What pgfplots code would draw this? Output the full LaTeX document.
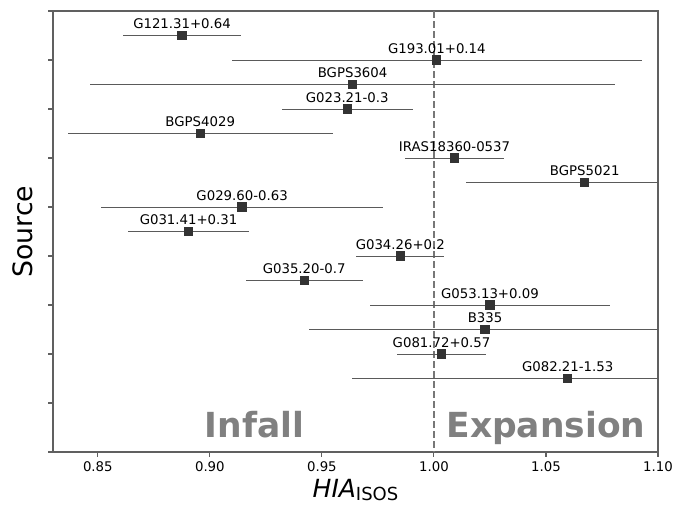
\documentclass[border=0pt]{standalone}
\usepackage{fontspec}
\setmainfont{DejaVu Sans}
\usepackage{pgfplots}
\usepackage{pgfplotstable}
\pgfplotsset{compat=1.18}
\definecolor{spine}{HTML}{606060}
\definecolor{ebar}{HTML}{5A5A5A}
\definecolor{mk}{HTML}{333333}
\definecolor{dline}{HTML}{777777}
\definecolor{txtgray}{HTML}{808080}
\pgfplotstableread{
x e y label
0.8876 0.0263 1 G121.31+0.64
1.0013 0.0916 2 G193.01+0.14
0.9637 0.1170 3 BGPS3604
0.9613 0.0292 4 G023.21-0.3
0.8957 0.0592 5 BGPS4029
1.0092 0.0222 6 IRAS18360-0537
1.0673 0.0532 7 BGPS5021
0.9144 0.0630 8 G029.60-0.63
0.8905 0.0271 9 G031.41+0.31
0.9850 0.0197 10 G034.26+0.2
0.9421 0.0261 11 G035.20-0.7
1.0250 0.0536 12 G053.13+0.09
1.0228 0.0787 13 B335
1.0034 0.0198 14 G081.72+0.57
1.0597 0.0963 15 G082.21-1.53
}\datatable
\begin{document}
\begin{tikzpicture}
\begin{axis}[
  scale only axis,
  width=605pt, height=441pt,
  xmin=0.83, xmax=1.10,
  ymin=0, ymax=18,
  y dir=reverse,
  xtick={0.85,0.90,0.95,1.00,1.05,1.10},
  xticklabel style={/pgf/number format/fixed, /pgf/number format/fixed zerofill, /pgf/number format/precision=2, /pgf/number format/assume math mode=true, yshift=-1pt},
  ytick={0,2,4,6,8,10,12,14,16,18},
  yticklabels={},
  tick align=outside,
  tick pos=left,
  major tick length=4.7pt,
  every tick/.style={spine, line width=1.1pt},
  axis line style={spine, line width=1.3pt},
  ticklabel style={font=\fontsize{13.3}{16}\selectfont},
  xlabel={{\itshape HIA}\raisebox{-3.5pt}{\fontsize{18}{20}\selectfont ISOS}},
  xlabel style={at={(axis description cs:0.5,0)}, anchor=base, yshift=-45pt, font=\fontsize{25}{28}\selectfont},
  ylabel={Source},
  ylabel style={at={(axis description cs:0,0.5)}, anchor=base, xshift=0pt, yshift=20pt, font=\fontsize{26.7}{30}\selectfont},
]
\addplot[dline, line width=1.5pt, dash pattern=on 7pt off 3pt, forget plot] coordinates {(1,0) (1,18)};
\addplot[only marks, mark=none,
  error bars/.cd, x dir=both, x explicit,
  error mark=none,
  error bar style={ebar, line width=1pt, solid}]
  table[x=x, y=y, x error=e] {\datatable};
\addplot[only marks, mark=square*, mark size=4.15pt, mark options={fill=mk, draw=mk, line width=0pt},
  point meta=explicit symbolic,
  nodes near coords={\pgfplotspointmeta},
  every node near coord/.append style={anchor=base, yshift=7pt, inner sep=0pt, text=black, font=\fontsize{13.3}{16}\selectfont}]
  table[x=x, y=y, meta=label] {\datatable};
\node[anchor=base, text=txtgray, font=\bfseries\fontsize{34.5}{38}\selectfont, inner sep=0pt] at (axis cs:0.920,17.4) {Infall};
\node[anchor=base, text=txtgray, font=\bfseries\fontsize{34.5}{38}\selectfont, inner sep=0pt] at (axis cs:1.050,17.4) {Expansion};
\end{axis}
\pgfresetboundingbox
\path[use as bounding box] ([xshift=-53pt,yshift=-54pt]current axis.south west) rectangle ([xshift=18pt,yshift=11pt]current axis.north east);
\end{tikzpicture}
\end{document}
